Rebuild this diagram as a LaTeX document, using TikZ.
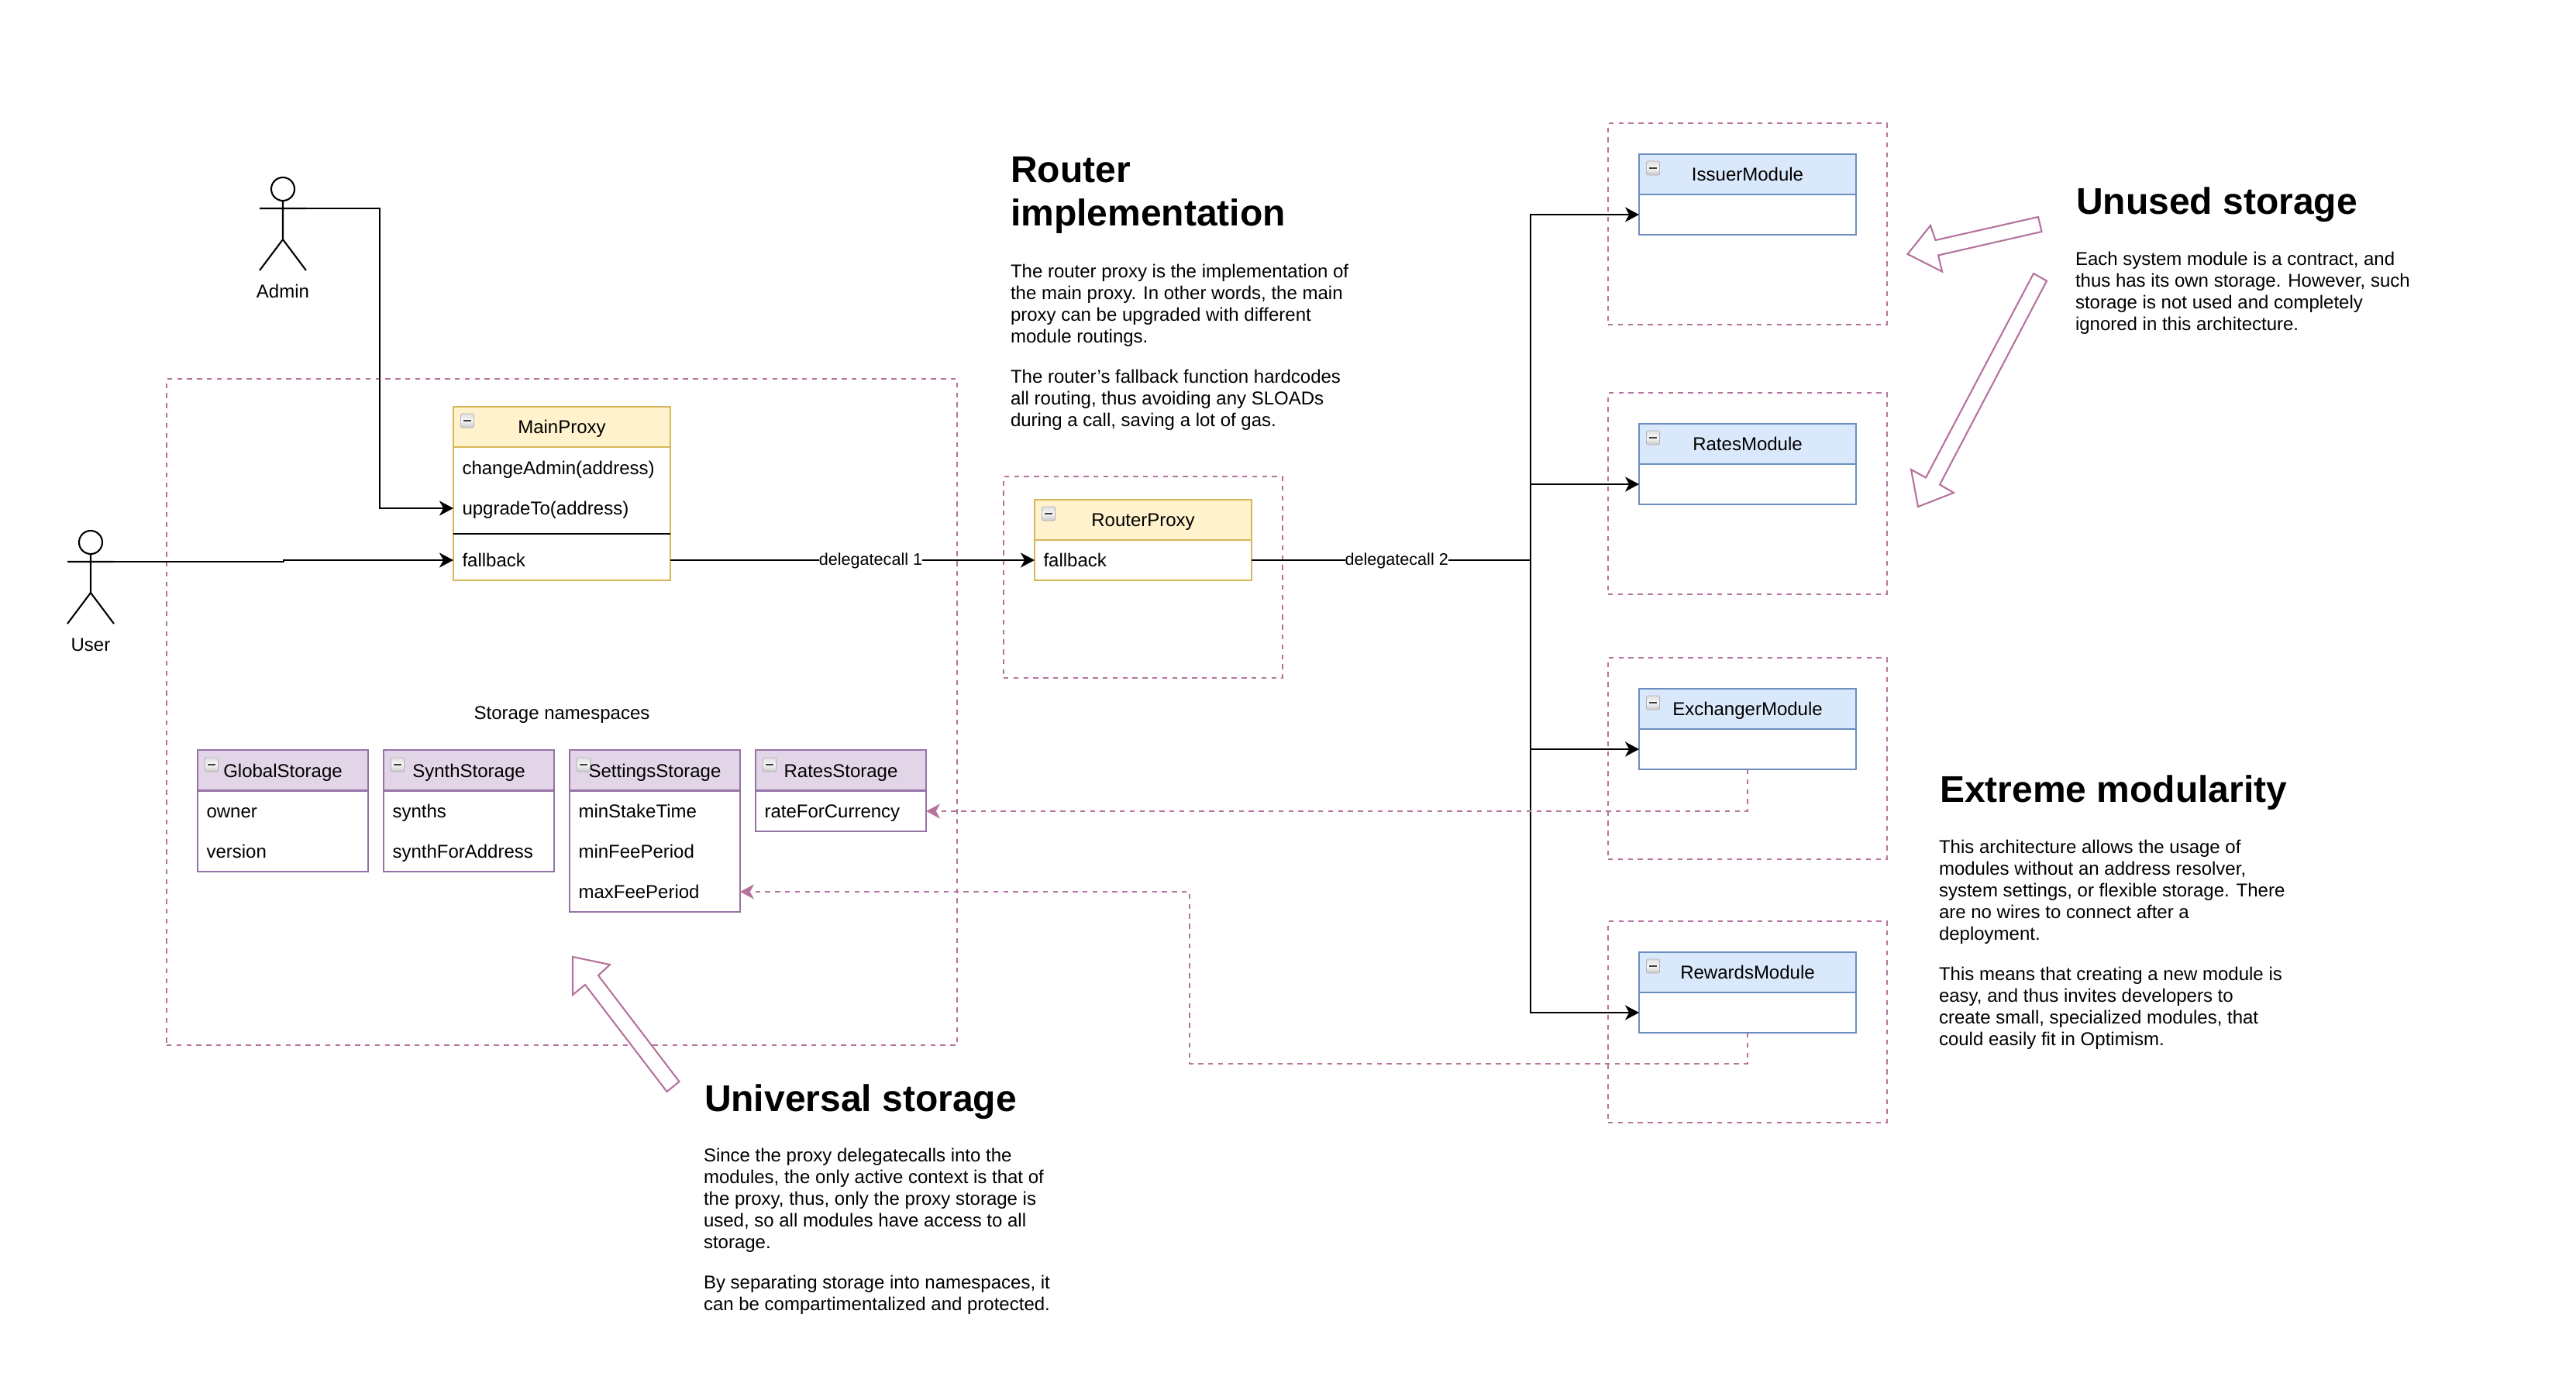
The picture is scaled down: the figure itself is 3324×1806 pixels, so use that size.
\documentclass[tikz,border=0pt]{standalone}
\usepackage{fontspec}
\setmainfont{Liberation Sans}
\usetikzlibrary{arrows.meta}
\definecolor{dashpurple}{HTML}{B5739D}
\definecolor{yelline}{HTML}{D6B656}
\definecolor{yelfill}{HTML}{FFF2CC}
\definecolor{bluline}{HTML}{6C8EBF}
\definecolor{blufill}{HTML}{DAE8FC}
\definecolor{purline}{HTML}{9673A6}
\definecolor{purfill}{HTML}{E1D5E7}
\newcommand{\bodyfont}{\fontsize{12}{14}\selectfont}
\newcommand{\edgefont}{\fontsize{10.8}{13}\selectfont}
\newcommand{\headfont}{\fontsize{24}{28.2}\selectfont\bfseries}
\tikzset{
  every node/.style={inner sep=0pt,outer sep=0pt},
  umlbase/.style={rectangle,anchor=north west,line width=1.05pt,font=\bodyfont,text height=10.6pt,text depth=2.4pt},
  yelhead/.style={umlbase,draw=yelline,fill=yelfill,minimum width=140pt,minimum height=26pt},
  yelbody/.style={umlbase,draw=yelline,fill=white,minimum width=140pt},
  bluhead/.style={umlbase,draw=bluline,fill=blufill,minimum width=140pt,minimum height=26pt},
  blubody/.style={umlbase,draw=bluline,fill=white,minimum width=140pt,minimum height=26pt},
  purhead/.style={umlbase,draw=purline,fill=purfill,minimum width=110pt,minimum height=26pt,text height=11.8pt},
  purbody/.style={umlbase,draw=purline,fill=white,minimum width=110pt},
  rowwide/.style={anchor=west,font=\bodyfont,align=left,text width=128.5pt,inner xsep=5.75pt,text height=10.6pt,text depth=2.4pt},
  rownarrow/.style={anchor=west,font=\bodyfont,align=left,text width=98.5pt,inner xsep=5.75pt,text height=10.6pt,text depth=2.4pt},
  dashbox/.style={draw=dashpurple,line width=1.05pt,dash pattern=on 3.2pt off 3.2pt,anchor=north west},
  plainlabel/.style={font=\bodyfont,text height=10.6pt,text depth=2.4pt},
  linelabel/.style={font=\edgefont,fill=white,text height=9pt,text depth=2.4pt},
  conn/.style={draw=black,line width=1.05pt,-{Stealth[length=9pt,width=9.5pt,inset=2.6pt]}},
  plainconn/.style={draw=black,line width=1.05pt},
  dashconn/.style={draw=dashpurple,line width=1.05pt,dash pattern=on 3.2pt off 3.2pt,-{Stealth[length=9pt,width=9.5pt,inset=2.6pt,color=dashpurple]}},
  stick/.style={draw=black,line width=1.05pt},
  actorhead/.style={circle,draw=black,line width=1.05pt,minimum size=15pt},
  blockarrow/.style={draw=dashpurple,fill=white,line width=1.05pt,line join=miter},
  iconbox/.style={rectangle,rounded corners=0.8pt,draw=gray!60,line width=0.4pt,top color=gray!25,bottom color=gray!45,middle color=gray!5,minimum width=8.5pt,minimum height=9pt},
  headtext/.style={anchor=north west,align=left,font=\headfont},
  bodytext/.style={anchor=north west,align=left,font=\bodyfont},
}
\newcommand{\iconminus}{\textcolor{black!75}{\rule[0.0pt]{4.6pt}{1.4pt}}}
\begin{document}
\begin{tikzpicture}[x=0.5pt,y=-0.5pt]
\useasboundingbox (0,0) rectangle (3324,1806);
% containers
\node[dashbox,minimum width=510pt,minimum height=430pt] (proxyzone) at (215,489) {};
\node[dashbox,minimum width=180pt,minimum height=130pt] (routerzone) at (1295,615) {};
\node[dashbox,minimum width=180pt,minimum height=130pt] (issuerzone) at (2075,159) {};
\node[dashbox,minimum width=180pt,minimum height=130pt] (rateszone) at (2075,507) {};
\node[dashbox,minimum width=180pt,minimum height=130pt] (exchzone) at (2075,849) {};
\node[dashbox,minimum width=180pt,minimum height=130pt] (rewzone) at (2075,1189) {};
% actors
\node[actorhead] (adminhead) at (365,244) {};
\coordinate (adminneck) at (365,259);
\coordinate (adminhip) at (365,309);
\coordinate (adminarmL) at (335,269);
\coordinate (adminarmM) at (365,269);
\coordinate (adminarmR) at (395,269);
\coordinate (adminfootL) at (335,349);
\coordinate (adminfootR) at (395,349);
\draw[stick] (adminneck) -- (adminhip) (adminarmL) -- (adminarmR) (adminfootL) -- (adminhip) -- (adminfootR);
\node[plainlabel] (adminlabel) at (365,376) {Admin};
\node[actorhead] (userhead) at (117,700) {};
\coordinate (userneck) at (117,715);
\coordinate (userhip) at (117,765);
\coordinate (userarmL) at (87,725);
\coordinate (userarmR) at (147,725);
\coordinate (userfootL) at (87,805);
\coordinate (userfootR) at (147,805);
\draw[stick] (userneck) -- (userhip) (userarmL) -- (userarmR) (userfootL) -- (userhip) -- (userfootR);
\node[plainlabel] (userlabel) at (117,832) {User};
% MainProxy
\node[yelhead] (mphead) at (585,525) {MainProxy};
\node[yelbody,minimum height=86pt] (mpbody) at (585,577) {};
\node[iconbox] (mpicon) at (603,543) {\iconminus};
\node[rowwide] (mpadmin) at (585,604) {changeAdmin(address)};
\node[rowwide] (mpupgrade) at (585,656) {upgradeTo(address)};
\node[rowwide] (mpfallback) at (585,723) {fallback};
\coordinate (mpsepL) at (585,689);
\coordinate (mpsepR) at (865,689);
\draw[stick] (mpsepL) -- (mpsepR);
% RouterProxy
\node[yelhead] (rphead) at (1335,645) {RouterProxy};
\node[yelbody,minimum height=26pt] (rpbody) at (1335,697) {};
\node[iconbox] (rpicon) at (1353,663) {\iconminus};
\node[rowwide] (rpfallback) at (1335,723) {fallback};
% modules
\node[bluhead] (ishead) at (2115,199) {IssuerModule};
\node[blubody] (isbody) at (2115,251) {};
\node[iconbox] (isicon) at (2133,217) {\iconminus};
\node[bluhead] (rmhead) at (2115,547) {RatesModule};
\node[blubody] (rmbody) at (2115,599) {};
\node[iconbox] (rmicon) at (2133,565) {\iconminus};
\node[bluhead] (exhead) at (2115,889) {ExchangerModule};
\node[blubody] (exbody) at (2115,941) {};
\node[iconbox] (exicon) at (2133,907) {\iconminus};
\node[bluhead] (rwhead) at (2115,1229) {RewardsModule};
\node[blubody] (rwbody) at (2115,1281) {};
\node[iconbox] (rwicon) at (2133,1247) {\iconminus};
% storage
\node[plainlabel] (nslabel) at (725,920) {Storage namespaces};
\node[purhead] (gshead) at (255,968) {GlobalStorage};
\node[purbody,minimum height=52pt] (gsbody) at (255,1021) {};
\node[iconbox] (gsicon) at (273,987) {\iconminus};
\node[rownarrow] (gsowner) at (255,1047) {owner};
\node[rownarrow] (gsversion) at (255,1099) {version};
\node[purhead] (syhead) at (495,968) {SynthStorage};
\node[purbody,minimum height=52pt] (sybody) at (495,1021) {};
\node[iconbox] (syicon) at (513,987) {\iconminus};
\node[rownarrow] (sysynths) at (495,1047) {synths};
\node[rownarrow] (syaddr) at (495,1099) {synthForAddress};
\node[purhead] (sehead) at (735,968) {SettingsStorage};
\node[purbody,minimum height=78pt] (sebody) at (735,1021) {};
\node[iconbox] (seicon) at (753,987) {\iconminus};
\node[rownarrow] (semin) at (735,1047) {minStakeTime};
\node[rownarrow] (seminfee) at (735,1099) {minFeePeriod};
\node[rownarrow] (semaxfee) at (735,1151) {maxFeePeriod};
\node[purhead] (rshead) at (975,968) {RatesStorage};
\node[purbody,minimum height=26pt] (rsbody) at (975,1021) {};
\node[iconbox] (rsicon) at (993,987) {\iconminus};
\node[rownarrow] (rsrate) at (975,1047) {rateForCurrency};
% connectors
\coordinate (adminbend) at (490,656);
\draw[conn] (adminarmR) -| (adminbend) -- (mpupgrade.west);
\coordinate (userstepA) at (366,725);
\coordinate (userstepB) at (366,723);
\draw[conn] (userarmR) -- (userstepA) -- (userstepB) -- (mpfallback.west);
\draw[conn] (mpfallback.east) -- node[linelabel,pos=.55] (dc1) {delegatecall 1} (rpfallback.west);
\coordinate (trunk) at (1975,723);
\draw[plainconn] (rpfallback.east) -- node[linelabel,pos=.52] (dc2) {delegatecall 2} (trunk);
\draw[conn] (trunk) |- (isbody.west);
\draw[conn] (trunk) |- (rmbody.west);
\draw[conn] (trunk) |- (exbody.west);
\draw[conn] (trunk) |- (rwbody.west);
\draw[dashconn] (exbody.south) |- (rsrate.east);
\coordinate (rwbendA) at (2255,1373);
\coordinate (rwbendB) at (1535,1373);
\coordinate (rwbendC) at (1535,1151);
\draw[dashconn] (rwbody.south) -- (rwbendA) -- (rwbendB) -- (rwbendC) -- (semaxfee.east);
% block arrows
\draw[blockarrow] (739,1235) -- (787,1245) -- (772,1259) -- (876.5,1396) -- (860.5,1409) -- (755,1271) -- (739,1284) -- cycle;
\draw[blockarrow] (2461.5,328) -- (2491,291) -- (2497.5,310) -- (2630,280) -- (2634.5,299) -- (2501,329.5) -- (2506,350.5) -- cycle;
\draw[blockarrow] (2475,654) -- (2466,606) -- (2485,616.5) -- (2624,353) -- (2641,362.5) -- (2503,625.5) -- (2521,636) -- cycle;
% texts
\node[headtext] (routerhead) at (1304,202) {Router\\implementation};
\node[bodytext] (routerbody) at (1304,341) {The router proxy is the implementation of\\the main proxy. In other words, the main\\proxy can be upgraded with different\\module routings.\\[12pt]The router's fallback function hardcodes\\all routing, thus avoiding any SLOADs\\during a call, saving a lot of gas.};
\node[headtext] (unusedhead) at (2679,242) {Unused storage};
\node[bodytext] (unusedbody) at (2678,325) {Each system module is a contract, and\\thus has its own storage. However, such\\storage is not used and completely\\ignored in this architecture.};
\node[headtext] (extremehead) at (2503,1001) {Extreme modularity};
\node[bodytext] (extremebody) at (2502,1084) {This architecture allows the usage of\\modules without an address resolver,\\system settings, or flexible storage. There\\are no wires to connect after a\\deployment.\\[12pt]This means that creating a new module is\\easy, and thus invites developers to\\create small, specialized modules, that\\could easily fit in Optimism.};
\node[headtext] (univhead) at (909,1400) {Universal storage};
\node[bodytext] (univbody) at (908,1482) {Since the proxy delegatecalls into the\\modules, the only active context is that of\\the proxy, thus, only the proxy storage is\\used, so all modules have access to all\\storage.\\[12pt]By separating storage into namespaces, it\\can be compartimentalized and protected.};
\end{tikzpicture}
\end{document}
